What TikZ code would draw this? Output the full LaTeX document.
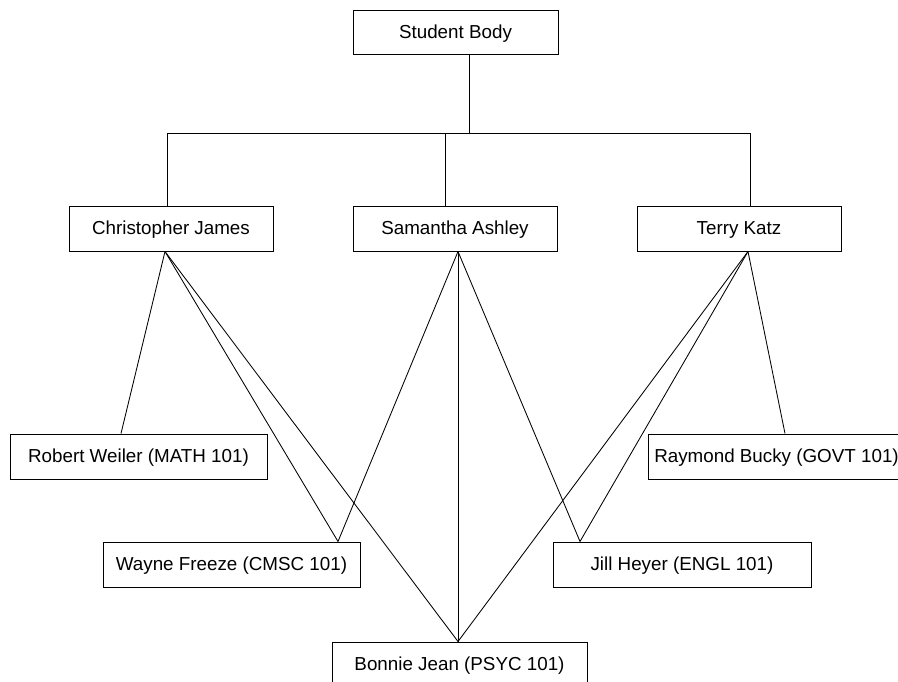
\documentclass[tikz,border=0pt]{standalone}
\usepackage{fontspec}
\setmainfont{Liberation Sans}
\begin{document}
\begin{tikzpicture}[x=1pt,y=-1pt,
  box/.style={draw, line width=1pt, rectangle, inner sep=0pt, minimum height=45pt, text height=13.5pt, text depth=1.5pt, font=\fontsize{18.8}{22}\selectfont},
  link/.style={draw, line width=0.85pt}]
\useasboundingbox (0,0) rectangle (898,681);
\node[box, minimum width=205pt, minimum height=44pt] (SB) at (455.5,32) {Student Body};
\node[box, minimum width=204pt] (CJ) at (171,228.5) {Christopher James};
\node[box, minimum width=204pt] (SA) at (455,228.5) {Samantha Ashley};
\node[box, minimum width=204pt] (TK) at (739,228.5) {Terry Katz};
\node[box, minimum width=257pt] (RW) at (138.5,456.5) {Robert Weiler (MATH 101)};
\node[box, minimum width=257pt] (RB) at (776.5,456.5) {Raymond Bucky (GOVT 101)};
\node[box, minimum width=257pt] (WF) at (231.5,564.5) {Wayne Freeze (CMSC 101)};
\node[box, minimum width=258pt] (JH) at (682,564.5) {Jill Heyer (ENGL 101)};
\node[box, minimum width=255pt] (BJ) at (459.5,664.5) {Bonnie Jean (PSYC 101)};
% tree bus
\coordinate (sbb) at ([xshift=13.5]SB.south);
\coordinate (busL) at (167,133);
\coordinate (busR) at (750,133);
\draw[link] (sbb) -- (sbb |- busL);
\draw[link] (busL) -- (busR);
\draw[link] (busL) -- (busL |- CJ.north);
\draw[link] ([xshift=-10]SA.north |- busL) -- ([xshift=-10]SA.north);
\draw[link] (busR) -- (busR |- TK.north);
% fan-out points
\coordinate (cjb) at ([xshift=-6]CJ.south);
\coordinate (sab) at ([xshift=3]SA.south);
\coordinate (tkb) at ([xshift=9]TK.south);
\coordinate (rwt) at ([xshift=-17.5]RW.north);
\coordinate (wft) at ([xshift=106.5]WF.north);
\coordinate (bjt) at ([xshift=-1.5]BJ.north);
\coordinate (jht) at ([xshift=-102]JH.north);
\coordinate (rbt) at ([xshift=8.5]RB.north);
\draw[link] (cjb) -- (rwt);
\draw[link] (cjb) -- (wft);
\draw[link] (cjb) -- (bjt);
\draw[link] (sab) -- (wft);
\draw[link] (sab) -- (bjt);
\draw[link] (sab) -- (jht);
\draw[link] (tkb) -- (bjt);
\draw[link] (tkb) -- (jht);
\draw[link] (tkb) -- (rbt);
\end{tikzpicture}
\end{document}
